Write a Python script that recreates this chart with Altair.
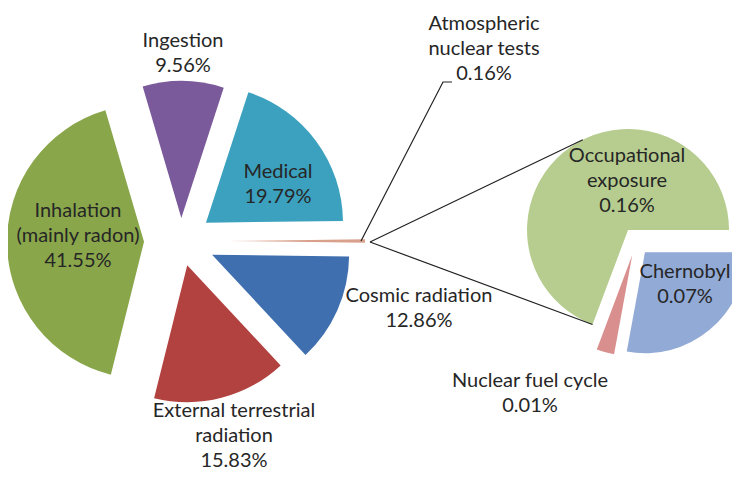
import math
import altair as alt
import pandas as pd

# ---------------- data ----------------
main_categories = ["Cosmic radiation", "External terrestrial\nradiation",
                   "Inhalation\n(mainly radon)", "Ingestion", "Medical"]
main_values = [12.86, 15.83, 41.55, 9.56, 19.79]

small_categories = ["Atmospheric\nnuclear tests", "Occupational\nexposure",
                    "Chernobyl", "Nuclear fuel cycle"]
small_values = [0.16, 0.164, 0.066, 0.0067]

second_categories = small_categories[1:]
second_values = small_values[1:]

other_value = sum(small_values)

# ---------------- styling / layout ----------------
main_colors = ["#3F6FAE", "#B2423F", "#8AA64B", "#7A5A9B", "#3CA1BE", "#D9A08C"]
second_colors = ["#B6CD8F", "#92AAD6", "#D88F8E"]
main_explode = [34, 25, 37, 23, 31, 47]
second_explode = [14, 14, 14]

W, H = 724, 465
xs = alt.Scale(domain=[8, 8 + W], range=[0, W], zero=False, nice=False)
ys = alt.Scale(domain=[8, 8 + H], range=[0, H], zero=False, nice=False)

MAIN_C = (181, 241)
MAIN_R = 137
SEC_C = (636, 241.5)
SEC_R = 101

main_total = sum(main_values) + other_value
main_start = math.pi / 2 + math.pi * other_value / main_total
sec_start = math.pi / 2 - 2 * math.pi * second_values[0] / sum(second_values)

main_df = pd.DataFrame({
    "category": main_categories + ["Other"],
    "value": main_values + [other_value],
    "order": list(range(len(main_categories) + 1)),
    "explode": main_explode,
    "color": main_colors,
})
sec_df = pd.DataFrame({
    "category": second_categories,
    "value": second_values,
    "order": list(range(len(second_categories))),
    "explode": second_explode,
    "color": second_colors,
})


def pie(df, start, center, r):
    cx, cy = center
    return (
        alt.Chart(df)
        .transform_joinaggregate(total="sum(value)")
        .transform_window(cum="sum(value)", sort=[alt.SortField("order", order="ascending")],
                          frame=[None, 0])
        .transform_calculate(
            a0=f"{start} + 2*PI*(datum.cum - datum.value)/datum.total",
            a1=f"{start} + 2*PI*datum.cum/datum.total",
        )
        .transform_calculate(mid="(datum.a0 + datum.a1)/2")
        .transform_calculate(
            px=f"{cx} + datum.explode*sin(datum.mid)",
            py=f"{cy} - datum.explode*cos(datum.mid)",
        )
        .mark_arc(radius=r)
        .encode(
            theta=alt.Theta("a0:Q", scale=None, stack=None),
            theta2="a1:Q",
            x=alt.X("px:Q", scale=xs, axis=None),
            y=alt.Y("py:Q", scale=ys, axis=None),
            color=alt.Color("color:N", scale=None),
        )
    )


main_pie = pie(main_df, main_start, MAIN_C, MAIN_R)
sec_pie = pie(sec_df, sec_start, SEC_C, SEC_R)

# connector (series) lines from the "other" slice to the second pie
tip = (370, 242)
green_mid = sec_start + math.pi * second_values[0] / sum(second_values)
gx = SEC_C[0] + second_explode[0] * math.sin(green_mid)
gy = SEC_C[1] - second_explode[0] * math.cos(green_mid)
top_ang = math.radians(333.4)
bot_ang = sec_start
conn_df = pd.DataFrame({
    "x": [tip[0], tip[0]],
    "y": [tip[1], tip[1]],
    "x2": [gx + SEC_R * math.sin(top_ang), gx + SEC_R * math.sin(bot_ang)],
    "y2": [gy - SEC_R * math.cos(top_ang), gy - SEC_R * math.cos(bot_ang)],
})
connectors = alt.Chart(conn_df).mark_rule(color="#222222", strokeWidth=1.2).encode(
    x=alt.X("x:Q", scale=xs, axis=None), x2="x2:Q",
    y=alt.Y("y:Q", scale=ys, axis=None), y2="y2:Q",
)

leader_df = pd.DataFrame({"x": [361, 443, 452], "y": [241, 82, 82], "o": [0, 1, 2]})
leader = alt.Chart(leader_df).mark_line(color="#222222", strokeWidth=1.2).encode(
    x=alt.X("x:Q", scale=xs, axis=None),
    y=alt.Y("y:Q", scale=ys, axis=None),
    order="o:Q",
)

# labels
label_anchor = {
    "Cosmic radiation": (419, 302),
    "External terrestrial\nradiation": (234, 417),
    "Inhalation\n(mainly radon)": (78, 217),
    "Ingestion": (183, 47),
    "Medical": (278, 178),
    "Atmospheric\nnuclear tests": (484, 30),
    "Occupational\nexposure": (627, 162),
    "Chernobyl": (685, 278),
    "Nuclear fuel cycle": (530, 387),
}
LINE = 25
rows = []
for name, val in list(zip(main_categories, main_values)) + list(zip(small_categories, small_values)):
    ax, ay = label_anchor[name]
    lines = name.split("\n") + [f"{val:.2f}%"]
    for i, t in enumerate(lines):
        rows.append({"x": ax, "y": ay + i * LINE, "text": t})
text_df = pd.DataFrame(rows)
labels = alt.Chart(text_df).mark_text(
    font="Lato", fontSize=20, color="#262626", align="center", baseline="alphabetic"
).encode(
    x=alt.X("x:Q", scale=xs, axis=None),
    y=alt.Y("y:Q", scale=ys, axis=None),
    text="text:N",
)

chart = alt.layer(main_pie, sec_pie, connectors, leader, labels).properties(
    width=W, height=H, autosize=alt.AutoSizeParams(type="none"), padding=0
).configure_view(stroke=None)

chart.save("out.html", embed_options={"renderer": "svg", "actions": False})
